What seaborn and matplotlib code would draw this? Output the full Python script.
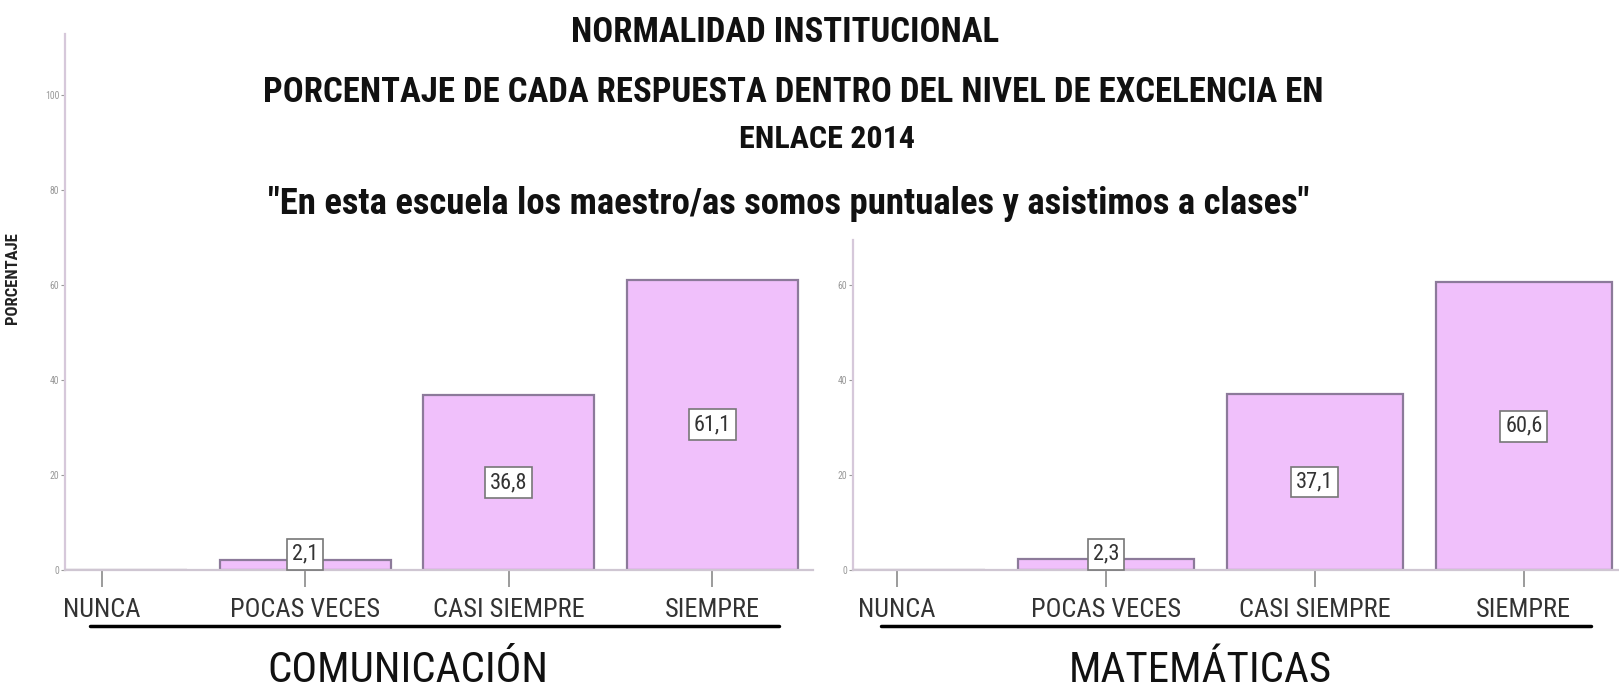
import matplotlib
matplotlib.use("Agg")
import matplotlib.pyplot as plt
from matplotlib.lines import Line2D
import seaborn as sns
import pandas as pd

# data
categories = ["NUNCA", "POCAS VECES", "CASI SIEMPRE", "SIEMPRE"]
comunicacion = [0.0, 2.1, 36.8, 61.1]
matematicas = [0.0, 2.3, 37.1, 60.6]
left_yticks = [0, 20, 40, 60, 80, 100]
right_yticks = [0, 20, 40, 60]

title_lines = [
    "NORMALIDAD INSTITUCIONAL",
    "PORCENTAJE DE CADA RESPUESTA DENTRO DEL NIVEL DE EXCELENCIA EN",
    "ENLACE 2014",
    "\"En esta escuela los maestro/as somos puntuales y asistimos a clases\"",
]

sns.set_style("white")
NARROW = ["Roboto Condensed", "DejaVu Sans"]
plt.rcParams["font.family"] = NARROW

W, H = 1619, 688
fig = plt.figure(figsize=(W / 100, H / 100), dpi=100)

BAR = "#f0c0fb"
EDGE = "#8c7a9a"
SPINE = "#d6c8da"


def fx(px):
    return px / W


def fy(py):
    return 1 - py / H


def panel(rect, values, yticks, ylim, xlim):
    ax = fig.add_axes(rect)
    df = pd.DataFrame({"cat": categories, "val": values})
    sns.barplot(data=df, x="cat", y="val", order=categories, color=BAR,
                saturation=1, edgecolor=EDGE, linewidth=1.6, width=0.84, ax=ax)
    ax.set_xlim(*xlim)
    ax.set_ylim(*ylim)
    ax.set_xlabel("")
    ax.set_ylabel("")
    ax.set_yticks(yticks)
    ax.tick_params(axis="y", left=True, direction="out", length=3, width=0.8,
                   color="#999999", labelsize=7, labelcolor="#999999", pad=1)
    ax.tick_params(axis="x", bottom=True, direction="out", length=12, width=1.2,
                   color="#8a8a8a", labelsize=19, labelcolor="#333333", pad=8)
    for s in ["top", "right"]:
        ax.spines[s].set_visible(False)
    ax.spines["left"].set_color(SPINE)
    ax.spines["left"].set_linewidth(1.6)
    ax.spines["bottom"].set_color("#cfc6d2")
    ax.spines["bottom"].set_linewidth(1.6)
    for i, v in enumerate(values):
        if v <= 0:
            continue
        ax.text(i, max(v / 2, 3.3), f"{v:.1f}".replace(".", ","),
                ha="center", va="center", fontsize=16, color="#333333",
                bbox=dict(boxstyle="square,pad=0.22", fc="white",
                          ec="#777777", lw=1.2))
    return ax


ax1 = panel([fx(65), fy(570), fx(813 - 65), (570 - 34) / H], comunicacion,
            left_yticks, (0, 112.8), (-0.18, 3.495))
ax1.set_ylabel("PORCENTAJE", fontsize=12, fontweight="bold", color="#222222")
ax1.yaxis.set_label_coords(-(65 - 20) / (813 - 65), (570 - 278) / (570 - 34))

ax2 = panel([fx(853), fy(570), fx(W - 853), (570 - 240) / H], matematicas,
            right_yticks, (0, 69.5), (-0.21, 3.455))

# titles
title_pos = [(785, 32, 25), (793, 92, 25), (827, 139, 23), (789, 204, 26.5)]
for txt, (x, y, fs) in zip(title_lines, title_pos):
    fig.text(fx(x), fy(y), txt, ha="center", va="center", fontsize=fs,
             fontweight="bold", color="#111111")

# underlines and subject names
for x0, x1 in [(90, 779), (881, 1591)]:
    fig.add_artist(Line2D([fx(x0), fx(x1)], [fy(626), fy(626)],
                          color="black", lw=2.5, transform=fig.transFigure))

fig.text(fx(408), fy(682), "COMUNICACIÓN", ha="center", va="baseline",
         fontsize=31, color="#111111")
fig.text(fx(1200), fy(682), "MATEMÁTICAS", ha="center", va="baseline",
         fontsize=31, color="#111111")

fig.savefig("out.png", dpi=100)
plt.close(fig)
